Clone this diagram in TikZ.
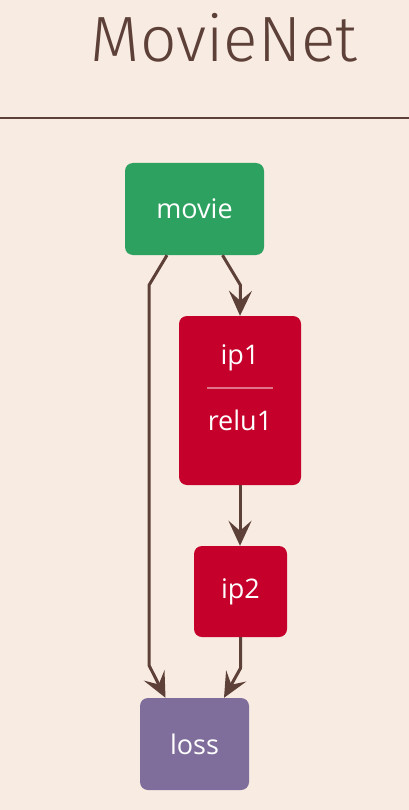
\documentclass[tikz,border=0pt]{standalone}
\usepackage{fontspec}
\setmainfont{Open Sans}
\newfontfamily\titlefont{Fira Sans Light}
\usepackage{tikz}
\usetikzlibrary{arrows.meta}
\definecolor{bg}{HTML}{F8EBE2}
\definecolor{brownline}{HTML}{5D4037}
\definecolor{datagreen}{HTML}{2DA160}
\definecolor{layerred}{HTML}{C4002B}
\definecolor{losspurple}{HTML}{7F6D9B}

\begin{document}
\begin{tikzpicture}[x=1pt,y=-1pt,
		box/.style={rectangle,rounded corners=8pt,draw=none,text=white,font=\fontsize{27}{30}\selectfont},
		edge/.style={draw=brownline,line width=3pt,line join=round,-{Stealth[length=25pt,width=23pt,inset=10pt]}}]
		\fill[bg] (0,0) rectangle (409,810);
		\useasboundingbox (0,0) rectangle (409,810);
		\node[text=brownline,font=\titlefont\fontsize{64}{66}\selectfont,anchor=base] (title) at (224,62) {MovieNet};
		\draw[brownline,line width=2pt] (0,118) coordinate (rulea) -- (409,118) coordinate (ruleb);
		\node[box,fill=datagreen,minimum width=139pt,minimum height=92pt] (movie) at (194.5,209) {movie};
		\node[box,fill=layerred,minimum width=122pt,minimum height=169pt] (ip1) at (240,400.5) {};
		\node[box,fill=layerred,minimum width=93pt,minimum height=91pt] (ip2) at (240.5,591.5) {ip2};
		\node[box,fill=losspurple,minimum width=109pt,minimum height=92pt] (loss) at (194.5,744) {loss};
		\node[box] (ip1top) at ([yshift=42.5pt]ip1.center) {ip1};
		\node[box] (ip1bot) at ([yshift=-19.5pt]ip1.center) {relu1};
		\draw[white!45!layerred,line width=2pt] ([xshift=-33pt,yshift=12.5pt]ip1.center) coordinate (diva) -- ([xshift=33pt,yshift=12.5pt]ip1.center) coordinate (divb);
		\draw[edge] ([xshift=28pt]movie.south) -- ++(18,30) -- (ip1.north);
		\draw[edge] ([xshift=-27.5pt]movie.south) -- ++(-18,30) -- ++(0,380) -- ([xshift=-29pt]loss.north);
		\draw[edge] (ip1.south) -- (ip1.south |- ip2.north);
		\draw[edge] (ip2.south) -- ++(0,31) -- ([xshift=29.5pt]loss.north);
	\end{tikzpicture}
\end{document}
